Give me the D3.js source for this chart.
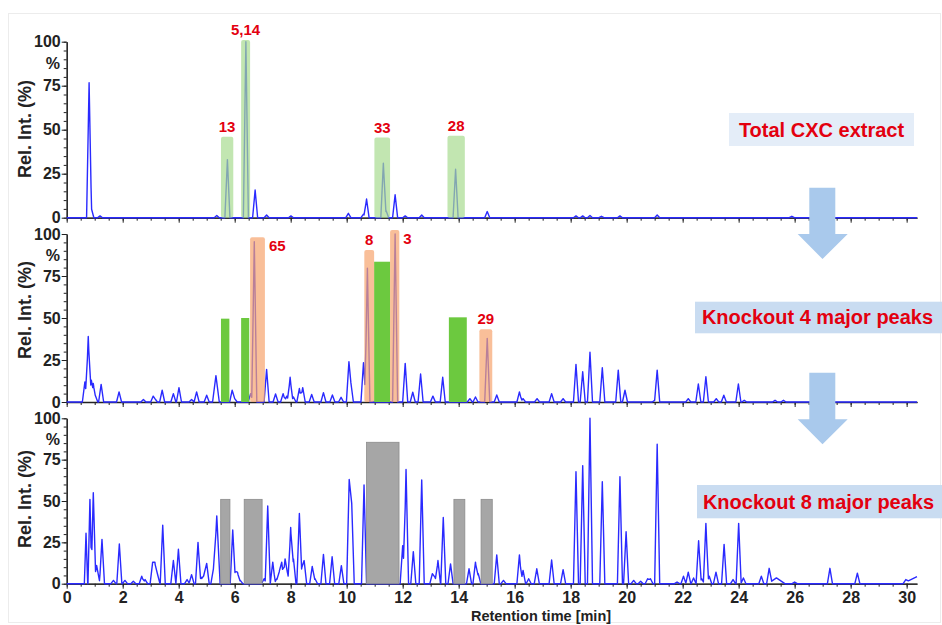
<!DOCTYPE html>
<html>
<head>
<meta charset="utf-8">
<script src="https://cdn.jsdelivr.net/npm/d3@7"></script>
<style>
  body { margin: 0; background: #fff; }
  svg { display: block; font-family: "Liberation Sans", Arial, sans-serif; }
</style>
</head>
<body>
<div id="chart"></div>
<script>
// chart values
const panelTitles = ["Total CXC extract", "Knockout 4 major peaks", "Knockout 8 major peaks"];
const yTicks = [0, 25, 50, 75, 100];
const xTickStep = 2;

// [retention time (min), rel. intensity (%), optional half width]
const peaksTotal = [
  [0.80, 76.7], [0.87, 6, 0.1], [1.19, 1], [5.36, 1.2], [5.74, 33], [6.40, 100], [6.73, 15.7],
  [7.14, 1.5], [8.01, 1], [10.06, 2.5], [10.6, 2], [10.71, 10.6], [11.31, 31], [11.41, 4],
  [11.73, 13], [12.09, 1], [12.68, 1.5], [13.89, 27.5], [15.02, 3.5], [18.19, 1], [18.43, 1],
  [18.69, 1.2], [19.1, 0.8], [19.76, 1], [21.09, 1.5], [25.9, 0.8]
];
const peaksKO4 = [
  [0.65, 12], [0.77, 39], [0.88, 13], [0.95, 11], [1.02, 4], [1.23, 10.5], [1.87, 6], [2.74, 1.5],
  [3.09, 3.5], [3.15, 2], [3.41, 7], [3.81, 5], [4.01, 8.5], [4.46, 1.5], [4.64, 6], [5.0, 4],
  [5.33, 15.7, 0.12], [5.91, 7], [6.0, 2], [6.57, 5], [6.70, 95.4], [7.14, 19.4], [7.46, 4.8],
  [7.73, 5], [7.86, 3.5], [7.98, 14.7], [8.1, 3], [8.31, 8], [8.43, 8.5], [8.75, 4.5], [9.17, 5.6],
  [9.49, 4.2], [9.8, 2.8], [10.08, 24], [10.15, 11.5], [10.6, 23.4], [10.74, 79.6], [11.73, 100],
  [12.09, 23], [12.36, 5.8], [12.64, 16.7], [13.08, 3.5], [13.43, 14.7], [14.4, 2], [14.6, 3],
  [15.02, 37.9], [15.36, 4.2], [16.17, 6], [16.3, 2], [16.8, 2], [17.32, 5], [17.73, 2],
  [18.19, 22.4], [18.43, 18], [18.69, 29.6], [19.13, 20.4], [19.7, 19], [19.94, 7], [21.0, 1],
  [21.09, 19], [22.2, 2], [22.56, 10.7], [22.83, 15], [23.2, 2], [23.47, 4], [23.99, 10.7],
  [24.2, 1], [25.3, 1], [25.6, 1], [27.26, 1.5]
];
const peaksKO8 = [
  [0.69, 30.5, 0.06], [0.83, 51, 0.07], [0.95, 55, 0.08], [1.07, 11, 0.12], [1.26, 26.8], [1.67, 2],
  [1.88, 24], [2.08, 2], [2.38, 1.5], [2.68, 4.5], [2.8, 2.5], [3.07, 13], [3.15, 13], [3.24, 6],
  [3.43, 35.3], [3.81, 14], [3.99, 20.8], [4.3, 2.5], [4.46, 5.5], [4.69, 25], [4.8, 4], [4.91, 6],
  [5.0, 12.3], [5.24, 9], [5.36, 41, 0.12], [5.93, 32.5], [6.02, 7.5, 0.1], [6.1, 7], [6.2, 2],
  [7.05, 3], [7.18, 47], [7.36, 13], [7.5, 3], [7.6, 8], [7.68, 13], [7.8, 15], [7.88, 7], [8.0, 34],
  [8.1, 15], [8.31, 42.5], [8.4, 10], [8.48, 14], [8.77, 10.5], [8.87, 3], [9.17, 17.7], [9.48, 16.3],
  [9.81, 10.9], [10.09, 63], [10.18, 48.6], [10.62, 59.7], [12.0, 23], [12.12, 69], [12.38, 19.4],
  [12.68, 62.7], [13.06, 6], [13.15, 4], [13.26, 14], [13.45, 40], [13.71, 12], [14.37, 9], [14.6, 13],
  [14.7, 6], [15.36, 17.4], [15.6, 2], [16.17, 17.4], [16.3, 8], [16.5, 3], [16.79, 9], [17.32, 14.3],
  [17.73, 8.5], [18.19, 67.7], [18.43, 71.4], [18.69, 100], [19.13, 61.7], [19.76, 64.7], [19.98, 31.4],
  [20.25, 2], [20.5, 1.5], [20.75, 3], [20.85, 3], [21.09, 84.3], [21.8, 1], [22.03, 4.5], [22.2, 7],
  [22.39, 3.5], [22.57, 26], [22.68, 3], [22.83, 36.5], [22.95, 4.5], [23.19, 7], [23.48, 23.8],
  [23.8, 2.5], [24.0, 36.5], [24.17, 3.5], [24.81, 4.5], [25.09, 9.3], [25.35, 3.5, 0.3], [26.0, 1],
  [27.26, 9.3], [28.24, 6.3], [29.97, 2.5], [30.45, 5, 0.6]
];

// highlighted peak windows: start, end (min), top (%)
const markedTotal = [
  { label: "13", t0: 5.51, t1: 5.95, top: 46 },
  { label: "5,14", t0: 6.23, t1: 6.55, top: 101 },
  { label: "33", t0: 10.99, t1: 11.55, top: 45.5 },
  { label: "28", t0: 13.6, t1: 14.22, top: 46.6 }
];
const knockedKO4 = [
  { t0: 5.51, t1: 5.81, top: 49.6 }, { t0: 6.23, t1: 6.52, top: 50 },
  { t0: 10.98, t1: 11.55, top: 83.5 }, { t0: 13.65, t1: 14.29, top: 50.4 }
];
const markedKO4 = [
  { label: "65", t0: 6.55, t1: 7.08, top: 98 },
  { label: "8", t0: 10.63, t1: 10.98, top: 90.5 },
  { label: "3", t0: 11.55, t1: 11.88, top: 102.4 },
  { label: "29", t0: 14.74, t1: 15.2, top: 43.3 }
];
const knockedKO8 = [
  { t0: 5.5, t1: 5.83, top: 51 }, { t0: 6.34, t1: 6.98, top: 51 },
  { t0: 10.71, t1: 11.87, top: 85.5 }, { t0: 13.83, t1: 14.22, top: 51 },
  { t0: 14.8, t1: 15.2, top: 51 }
];

const width = 942, height = 625;
const red = "#e3000f";
const halfWidth = 0.09;

const x = d3.scaleLinear().domain([0, 30.37]).range([66.7, 917]);

const panels = [
  { peaks: peaksTotal, y0: 217.7, y1: 41.7, titleY: 129,
    boxes: [{ data: markedTotal, fill: "#a8dc90", op: 0.7, stroke: "none" }],
    tag: { x0: 729, x1: 914, y0: 113, y1: 146, fill: "#e4edf8" } },
  { peaks: peaksKO4, y0: 402, y1: 234, titleY: 310,
    boxes: [{ data: knockedKO4, fill: "#6cc93f", op: 1, stroke: "none" },
            { data: markedKO4, fill: "#f7a46e", op: 0.7, stroke: "none" }],
    tag: { x0: 695, x1: 942, y0: 301.7, y1: 333.3, fill: "#c9dcf1" } },
  { peaks: peaksKO8, y0: 583.7, y1: 418.3, titleY: 499,
    boxes: [{ data: knockedKO8, fill: "#a6a6a6", op: 1, stroke: "#8c8c8c" }],
    tag: { x0: 697, x1: 942, y0: 485, y1: 518.3, fill: "#c9dcf1" } }
];
const rightLabels = ["65", "3"];

// upper envelope of narrow triangular peaks
function trace(peaks) {
  const [a, b] = x.domain();
  let ts = [a, b];
  peaks.forEach(p => { const w = p[2] || halfWidth; ts.push(p[0] - w, p[0], p[0] + w); });
  ts = ts.filter(t => t >= a && t <= b).sort((m, n) => m - n);
  return ts.map(t => [t, d3.max(peaks, p => {
    const w = p[2] || halfWidth;
    return Math.max(0, p[1] * (1 - Math.abs(t - p[0]) / w));
  })]);
}

const svg = d3.select("#chart").append("svg")
  .attr("width", width)
  .attr("height", height);

svg.append("rect")
  .attr("x", 8.5).attr("y", 13.5)
  .attr("width", 932).attr("height", 609)
  .attr("fill", "none").attr("stroke", "#ececec");

panels.forEach((p, i) => {
  const y = d3.scaleLinear().domain([0, 100]).range([p.y0, p.y1]);
  const g = svg.append("g");
  const last = i === panels.length - 1;

  // x axis: minor then major ticks
  g.append("g")
    .attr("transform", `translate(0,${p.y0})`)
    .call(d3.axisBottom(x).tickValues(d3.range(0, 30.4, 0.5)).tickSize(3).tickSizeOuter(0).tickFormat(""))
    .call(a => a.selectAll("line,path").attr("stroke", "#222"));
  const xa = g.append("g")
    .attr("transform", `translate(0,${p.y0})`)
    .call(d3.axisBottom(x).tickValues(d3.range(0, 30.4, xTickStep)).tickSize(5).tickSizeOuter(0)
      .tickFormat(last ? d3.format("d") : ""));
  xa.select(".domain").attr("stroke", "#222").attr("stroke-width", 1.3);
  xa.selectAll(".tick line").attr("stroke", "#222");
  xa.selectAll("text")
    .attr("font-size", 16).attr("font-weight", "bold").attr("fill", "#222")
    .attr("y", 7).attr("dy", "0.8em");

  // y axis
  g.append("g")
    .attr("transform", `translate(${x(0)},0)`)
    .call(d3.axisLeft(y).tickValues(d3.range(0, 101, 5)).tickSize(3).tickSizeOuter(0).tickFormat(""))
    .call(a => a.selectAll("line,path").attr("stroke", "#222"));
  const ya = g.append("g")
    .attr("transform", `translate(${x(0)},0)`)
    .call(d3.axisLeft(y).tickValues(yTicks).tickSize(5).tickSizeOuter(0));
  ya.select(".domain").attr("stroke", "#222").attr("stroke-width", 1.3);
  ya.selectAll(".tick line").attr("stroke", "#222");
  ya.selectAll("text")
    .attr("font-size", 16).attr("font-weight", "bold").attr("fill", "#222").attr("x", -6);

  g.append("text")
    .attr("x", 60).attr("y", p.y1 + 27)
    .attr("text-anchor", "end")
    .attr("font-size", 16).attr("font-weight", "bold").attr("fill", "#222")
    .text("%");

  g.append("text")
    .attr("transform", `translate(25,${p.titleY}) rotate(-90)`)
    .attr("text-anchor", "middle").attr("dy", "0.35em")
    .attr("font-size", 18).attr("font-weight", "bold").attr("fill", "#222")
    .text("Rel. Int. (%)");

  // chromatogram
  g.append("path")
    .datum(trace(p.peaks))
    .attr("fill", "none")
    .attr("stroke", "#2a2aff")
    .attr("stroke-width", 1.4)
    .attr("stroke-linejoin", "round")
    .attr("d", d3.line().x(d => x(d[0])).y(d => y(d[1])));

  // peak windows
  p.boxes.forEach(b => {
    g.append("g").selectAll("rect")
      .data(b.data)
      .join("rect")
        .attr("x", d => x(d.t0))
        .attr("y", d => y(d.top))
        .attr("width", d => x(d.t1) - x(d.t0))
        .attr("height", d => y(0) - y(d.top))
        .attr("rx", b.op < 1 ? 2 : 0)
        .attr("fill", b.fill)
        .attr("fill-opacity", b.op)
        .attr("stroke", b.stroke)
        .attr("stroke-width", 0.8);

    g.append("g").selectAll("text")
      .data(b.data.filter(d => d.label))
      .join("text")
        .attr("x", d => rightLabels.includes(d.label) ? x(d.t1) + 4 : (x(d.t0) + x(d.t1)) / 2)
        .attr("y", d => rightLabels.includes(d.label) ? y(d.top) + 14 : y(d.top) - 5)
        .attr("text-anchor", d => rightLabels.includes(d.label) ? "start" : "middle")
        .attr("font-size", 15).attr("font-weight", "bold").attr("fill", red)
        .text(d => d.label);
  });

  // sample tag
  g.append("rect")
    .attr("x", p.tag.x0).attr("y", p.tag.y0)
    .attr("width", p.tag.x1 - p.tag.x0).attr("height", p.tag.y1 - p.tag.y0)
    .attr("fill", p.tag.fill);
  g.append("text")
    .attr("x", (p.tag.x0 + Math.min(p.tag.x1, 940)) / 2)
    .attr("y", p.tag.y1 - 9)
    .attr("text-anchor", "middle")
    .attr("font-size", 20).attr("font-weight", "bold").attr("fill", red)
    .text(panelTitles[i]);
});

// arrows between panels
const arrowTops = [[187.7, 234, 259], [372.7, 419.3, 444.3]];
arrowTops.forEach(([s, h, tip]) => {
  svg.append("path")
    .attr("d", `M809.3,${s}H835.3V${h}H847.7L822.5,${tip}L797.7,${h}H809.3Z`)
    .attr("fill", "#a9c9ec");
});

svg.append("text")
  .attr("x", 541).attr("y", 621)
  .attr("text-anchor", "middle")
  .attr("font-size", 14.5).attr("font-weight", "bold").attr("fill", "#222")
  .text("Retention time [min]");
</script>
</body>
</html>
